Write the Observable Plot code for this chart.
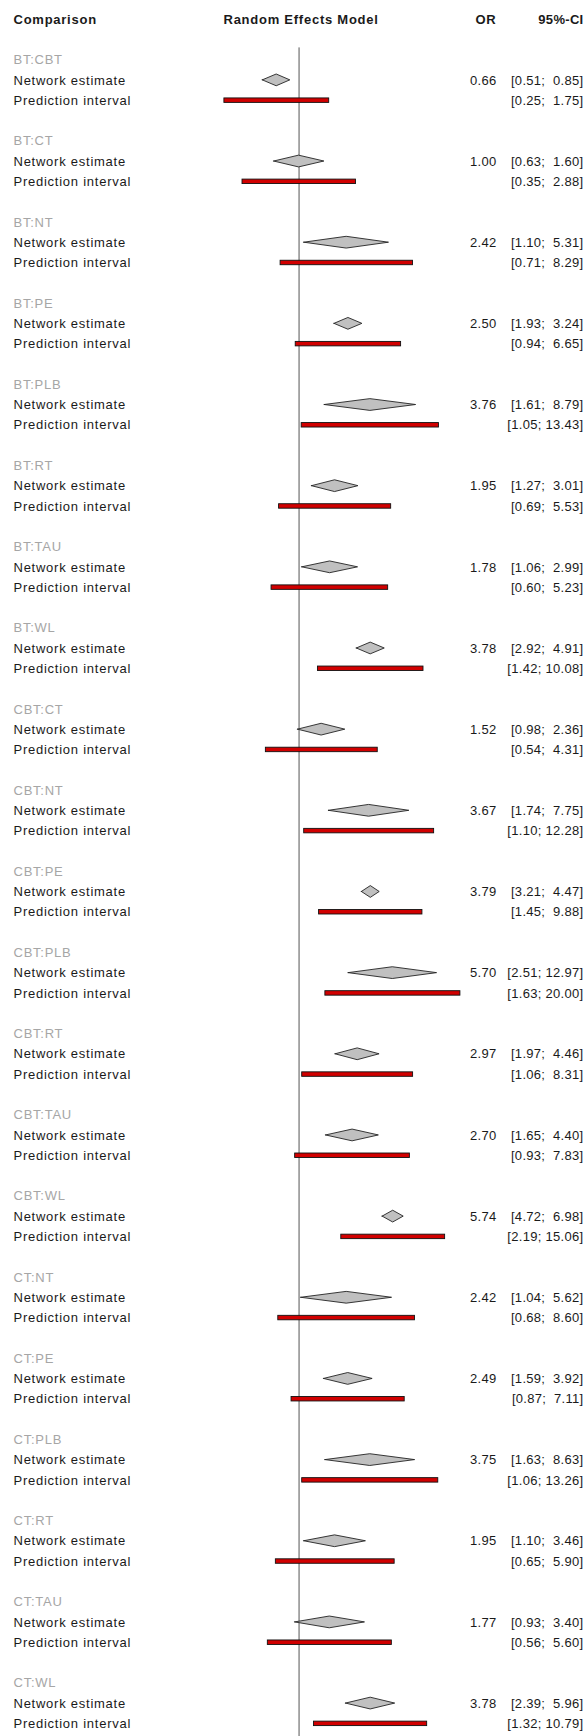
<!DOCTYPE html>
<html>
<head>
<meta charset="utf-8">
<script src="https://cdn.jsdelivr.net/npm/d3@7"></script>
<script src="https://cdn.jsdelivr.net/npm/@observablehq/plot@0.6"></script>
<style>
  html, body { margin: 0; padding: 0; background: #fff; }
  #chart svg { display: block; }
</style>
</head>
<body>
<div id="chart"></div>
<script>
// Pairwise comparisons from the network meta-analysis (random effects model)
const comparisons = ["BT:CBT","BT:CT","BT:NT","BT:PE","BT:PLB","BT:RT","BT:TAU","BT:WL",
  "CBT:CT","CBT:NT","CBT:PE","CBT:PLB","CBT:RT","CBT:TAU","CBT:WL",
  "CT:NT","CT:PE","CT:PLB","CT:RT","CT:TAU","CT:WL"];
const oddsRatio = [0.66,1.00,2.42,2.50,3.76,1.95,1.78,3.78,1.52,3.67,3.79,5.70,2.97,2.70,5.74,2.42,2.49,3.75,1.95,1.77,3.78];
const ciLow  = [0.51,0.63,1.10,1.93,1.61,1.27,1.06,2.92,0.98,1.74,3.21,2.51,1.97,1.65,4.72,1.04,1.59,1.63,1.10,0.93,2.39];
const ciHigh = [0.85,1.60,5.31,3.24,8.79,3.01,2.99,4.91,2.36,7.75,4.47,12.97,4.46,4.40,6.98,5.62,3.92,8.63,3.46,3.40,5.96];
const piLow  = [0.25,0.35,0.71,0.94,1.05,0.69,0.60,1.42,0.54,1.10,1.45,1.63,1.06,0.93,2.19,0.68,0.87,1.06,0.65,0.56,1.32];
const piHigh = [1.75,2.88,8.29,6.65,13.43,5.53,5.23,10.08,4.31,12.28,9.88,20.00,8.31,7.83,15.06,8.60,7.11,13.26,5.90,5.60,10.79];
const rowLabels = ["Network estimate", "Prediction interval"];
const headers = ["Comparison", "Random Effects Model", "OR", "95%-CI"];

// Each comparison takes four rows: group label, estimate, prediction interval, blank
const groupRow = i => 2 + 4 * i;
const lastRow = groupRow(comparisons.length - 1) + 2;

const fmt = v => v.toFixed(2);
const ci = (lo, hi) => "[" + fmt(lo) + ";" + (hi < 10 ? "\u00a0\u00a0" : "\u00a0") + fmt(hi) + "]";

const leftRows = comparisons.flatMap((c, i) => [
  {row: groupRow(i), text: c, group: true},
  {row: groupRow(i) + 1, text: rowLabels[0], group: false},
  {row: groupRow(i) + 2, text: rowLabels[1], group: false}
]);

const estimates = comparisons.map((c, i) => ({
  comparison: c, row: groupRow(i) + 1,
  or: oddsRatio[i], lo: ciLow[i], hi: ciHigh[i]
}));
const predictions = comparisons.map((c, i) => ({
  comparison: c, row: groupRow(i) + 2, lo: piLow[i], hi: piHigh[i]
}));

// Diamond outline: left tip, top, right tip / bottom
const diamondHalf = 0.29;
const diamondPts = estimates.flatMap(d => [
  {z: d.comparison, x: d.lo, y1: d.row, y2: d.row},
  {z: d.comparison, x: d.or, y1: d.row - diamondHalf, y2: d.row + diamondHalf},
  {z: d.comparison, x: d.hi, y1: d.row, y2: d.row}
]);
const barHalf = 0.11;

const font = "'Liberation Sans', Arial, Helvetica, sans-serif";
const textOpts = {fontSize: 13, fill: "#1a1a1a"};

const chart = Plot.plot({
  width: 585,
  height: 1736,
  margin: 0,
  style: {fontFamily: font, fontSize: "13px", letterSpacing: "0.75px", background: "#fff"},
  x: {type: "log", domain: [0.25, 20], range: [223.9, 459.9], axis: null},
  y: {type: "linear", domain: [0, lastRow], range: [19, 19 + lastRow * 20.29], axis: null},
  marks: [
    // null effect line at OR = 1
    Plot.ruleX([1], {y1: 1.4, y2: lastRow + 0.7, stroke: "#555", strokeWidth: 1}),
    // network estimates as diamonds spanning the 95% CI
    Plot.areaY(diamondPts, {x: "x", y1: "y1", y2: "y2", z: "z", fill: "#c0c0c0", stroke: "#222", strokeWidth: 0.9}),
    // prediction intervals
    Plot.rect(predictions, {x1: "lo", x2: "hi", y1: d => d.row - barHalf, y2: d => d.row + barHalf,
      fill: "#d10000", stroke: "#111", strokeWidth: 0.9}),
    // header row
    Plot.text([headers[0]], {frameAnchor: "left", dx: 13, y: () => 0, text: d => d, textAnchor: "start", fontWeight: "bold", ...textOpts}),
    Plot.text([headers[1]], {x: () => 1, dx: 2, y: () => 0, text: d => d, textAnchor: "middle", fontWeight: "bold", ...textOpts}),
    Plot.text([headers[2]], {frameAnchor: "right", dx: -89, y: () => 0, text: d => d, textAnchor: "end", fontWeight: "bold", ...textOpts}),
    Plot.text([headers[3]], {frameAnchor: "right", dx: -2, y: () => 0, text: d => d, textAnchor: "end", fontWeight: "bold", ...textOpts}),
    // left column: comparison labels and row labels
    Plot.text(leftRows, {frameAnchor: "left", dx: 13, y: "row", text: "text", textAnchor: "start",
      fontSize: 13, fill: d => d.group ? "#a6a6a6" : "#1a1a1a"}),
    // OR column
    Plot.text(estimates, {frameAnchor: "right", dx: -89, y: "row", text: d => fmt(d.or), textAnchor: "end", ...textOpts}),
    // 95%-CI column: confidence interval and prediction interval
    Plot.text(estimates, {frameAnchor: "right", dx: -2, y: "row", text: d => ci(d.lo, d.hi), textAnchor: "end", ...textOpts}),
    Plot.text(predictions, {frameAnchor: "right", dx: -2, y: "row", text: d => ci(d.lo, d.hi), textAnchor: "end", ...textOpts})
  ]
});

// numeric columns are set a little tighter than the labels
d3.select(chart).selectAll("text")
  .filter(function() { return /^[\[\d]/.test(this.textContent); })
  .style("letter-spacing", "0.3px");

document.getElementById("chart").appendChild(chart);
</script>
</body>
</html>
